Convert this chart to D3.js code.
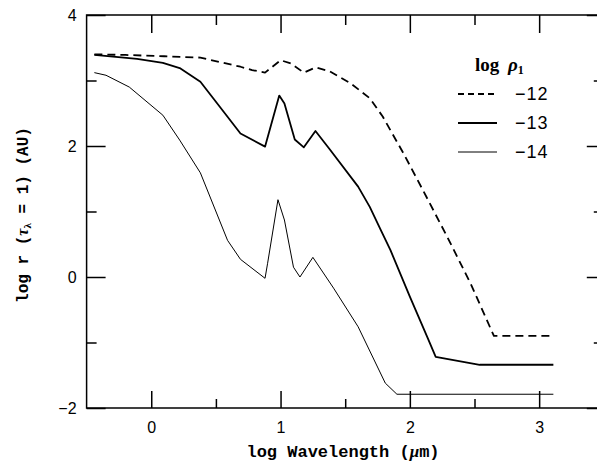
<!DOCTYPE html>
<html>
<head>
<meta charset="utf-8">
<script src="https://cdn.jsdelivr.net/npm/d3@7"></script>
<style>
  body { margin: 0; background: #fff; }
  svg { display: block; }
</style>
</head>
<body>
<div id="graph-container"></div>
<script>
const W = 597, H = 463

// log wavelength (um) vs log r(tau=1) (AU), one list per log rho_1
const rho12 = [[-0.44,3.40],[-0.2,3.39],[0.1,3.37],[0.38,3.35],[0.69,3.21],[0.78,3.16],[0.88,3.12],[1.0,3.31],[1.08,3.26],[1.18,3.12],[1.27,3.20],[1.38,3.14],[1.54,2.96],[1.69,2.73],[1.79,2.45],[1.95,1.89],[2.1,1.33],[2.29,0.61],[2.47,-0.10],[2.65,-0.90],[3.11,-0.90]]
const rho13 = [[-0.44,3.39],[-0.11,3.33],[0.09,3.27],[0.22,3.19],[0.38,2.98],[0.53,2.60],[0.69,2.19],[0.88,1.99],[0.99,2.77],[1.03,2.65],[1.11,2.10],[1.18,1.98],[1.27,2.23],[1.38,1.95],[1.6,1.38],[1.69,1.07],[1.77,0.74],[1.85,0.41],[2.0,-0.30],[2.14,-0.94],[2.2,-1.22],[2.54,-1.34],[3.11,-1.34]]
const rho14 = [[-0.44,3.12],[-0.35,3.08],[-0.17,2.90],[0.09,2.47],[0.22,2.09],[0.38,1.59],[0.59,0.56],[0.69,0.27],[0.88,-0.02],[0.9,0.21],[0.98,1.18],[1.03,0.87],[1.10,0.15],[1.15,0.0],[1.25,0.30],[1.41,-0.17],[1.6,-0.76],[1.81,-1.62],[1.9,-1.79],[3.11,-1.79]]

const legendLabels = ["\u221212", "\u221213", "\u221214"]
const xMajor = [0, 1, 2, 3], xMinor = [0.5, 1.5, 2.5]
const yMajor = [-2, 0, 2, 4], yMinor = [-1, 1, 3]

const x = d3.scaleLinear().domain([-0.5, 3.5]).range([86.6, 603.8])
const y = d3.scaleLinear().domain([-2, 4]).range([408, 15])

const svg = d3.create("svg")
    .attr("width", W)
    .attr("height", H)
    .attr("viewBox", [0, 0, W, H])
d3.select('#graph-container').append(() => svg.node())

const x0 = x.range()[0], x1 = x.range()[1], y0 = y.range()[0], y1 = y.range()[1]

function styleAxis(g) {
  g.select(".domain").remove()
  g.selectAll("line").attr("stroke", "#000").attr("stroke-width", 1.5)
  g.selectAll("text")
    .attr("font-family", "'Liberation Sans', Arial, sans-serif")
    .attr("font-size", 16)
    .attr("fill", "#000")
}

// bottom
svg.append("g").attr("transform", `translate(0,${y0})`)
  .call(d3.axisBottom(x).tickValues(xMajor).tickSize(-17).tickPadding(14).tickFormat(d3.format("d")))
  .call(styleAxis)
svg.append("g").attr("transform", `translate(0,${y0})`)
  .call(d3.axisBottom(x).tickValues(xMinor).tickSize(-9).tickFormat(""))
  .call(styleAxis)
// top
svg.append("g").attr("transform", `translate(0,${y1})`)
  .call(d3.axisTop(x).tickValues(xMajor).tickSize(-18).tickFormat(""))
  .call(styleAxis)
svg.append("g").attr("transform", `translate(0,${y1})`)
  .call(d3.axisTop(x).tickValues(xMinor).tickSize(-10).tickFormat(""))
  .call(styleAxis)
// left
svg.append("g").attr("transform", `translate(${x0},0)`)
  .call(d3.axisLeft(y).tickValues(yMajor).tickSize(-19).tickPadding(10).tickFormat(d => d < 0 ? "\u2212" + Math.abs(d) : d))
  .call(styleAxis)
svg.append("g").attr("transform", `translate(${x0},0)`)
  .call(d3.axisLeft(y).tickValues(yMinor).tickSize(-10).tickFormat(""))
  .call(styleAxis)
// right
svg.append("g").attr("transform", `translate(${x1},0)`)
  .call(d3.axisRight(y).tickValues(yMajor).tickSize(-17).tickFormat(""))
  .call(styleAxis)
svg.append("g").attr("transform", `translate(${x1},0)`)
  .call(d3.axisRight(y).tickValues(yMinor).tickSize(-10).tickFormat(""))
  .call(styleAxis)

svg.append("rect")
    .attr("x", x0).attr("y", y1)
    .attr("width", x1 - x0).attr("height", y0 - y1)
    .attr("fill", "none").attr("stroke", "#000").attr("stroke-width", 1.5)

const line = d3.line().x(d => x(d[0])).y(d => y(d[1]))

const series = [
  {data: rho12, width: 1.8, dash: "8,5"},
  {data: rho13, width: 1.8, dash: null},
  {data: rho14, width: 1, dash: null}
]

svg.append("g")
  .selectAll("path")
  .data(series)
  .join("path")
    .attr("d", d => line(d.data))
    .attr("fill", "none")
    .attr("stroke", "#000")
    .attr("stroke-width", d => d.width)
    .attr("stroke-dasharray", d => d.dash)
    .attr("stroke-linejoin", "round")

// legend
const legend = svg.append("g")
legend.append("text")
    .attr("x", 475).attr("y", 71)
    .attr("font-family", "'Liberation Serif', 'Times New Roman', serif")
    .attr("font-weight", "bold")
    .attr("font-size", 19)
    .call(t => {
      t.append("tspan").text("log ")
      t.append("tspan").attr("dx", 4).attr("font-style", "italic").text("\u03c1")
      t.append("tspan").attr("font-size", 12).attr("dy", 3).text("1")
    })

const rows = legend.selectAll(".row")
  .data(series)
  .join("g")
    .attr("class", "row")
    .attr("transform", (d, i) => `translate(0,${94 + i * 29})`)
rows.append("line")
    .attr("x1", 458).attr("x2", 497)
    .attr("stroke", "#000")
    .attr("stroke-width", d => d.width)
    .attr("stroke-dasharray", d => d.dash ? "6,4" : null)
rows.append("text")
    .attr("x", 515).attr("y", 6)
    .attr("font-family", "'Liberation Sans', Arial, sans-serif")
    .attr("font-size", 18)
    .attr("letter-spacing", 1)
    .text((d, i) => legendLabels[i])

// axis titles
svg.append("text")
    .attr("x", 343).attr("y", 457)
    .attr("text-anchor", "middle")
    .attr("font-family", "'Liberation Mono', 'DejaVu Sans Mono', monospace")
    .attr("font-size", 17)
    .attr("font-weight", "bold")
    .call(t => {
      t.append("tspan").text("log Wavelength (")
      t.append("tspan").attr("font-family", "'Liberation Serif', serif").attr("font-style", "italic").text("\u03bc")
      t.append("tspan").text("m)")
    })

svg.append("text")
    .attr("transform", "translate(28,215) rotate(-90)")
    .attr("text-anchor", "middle")
    .attr("font-family", "'Liberation Mono', 'DejaVu Sans Mono', monospace")
    .attr("font-size", 16)
    .attr("font-weight", "bold")
    .call(t => {
      t.append("tspan").text("log r (")
      t.append("tspan").attr("font-family", "'Liberation Serif', serif").attr("font-style", "italic").text("\u03c4")
      t.append("tspan").attr("font-family", "'Liberation Serif', serif").attr("font-size", 11).attr("dy", 3).text("\u03bb")
      t.append("tspan").attr("dy", -3).text(" = 1) (AU)")
    })
</script>
</body>
</html>
